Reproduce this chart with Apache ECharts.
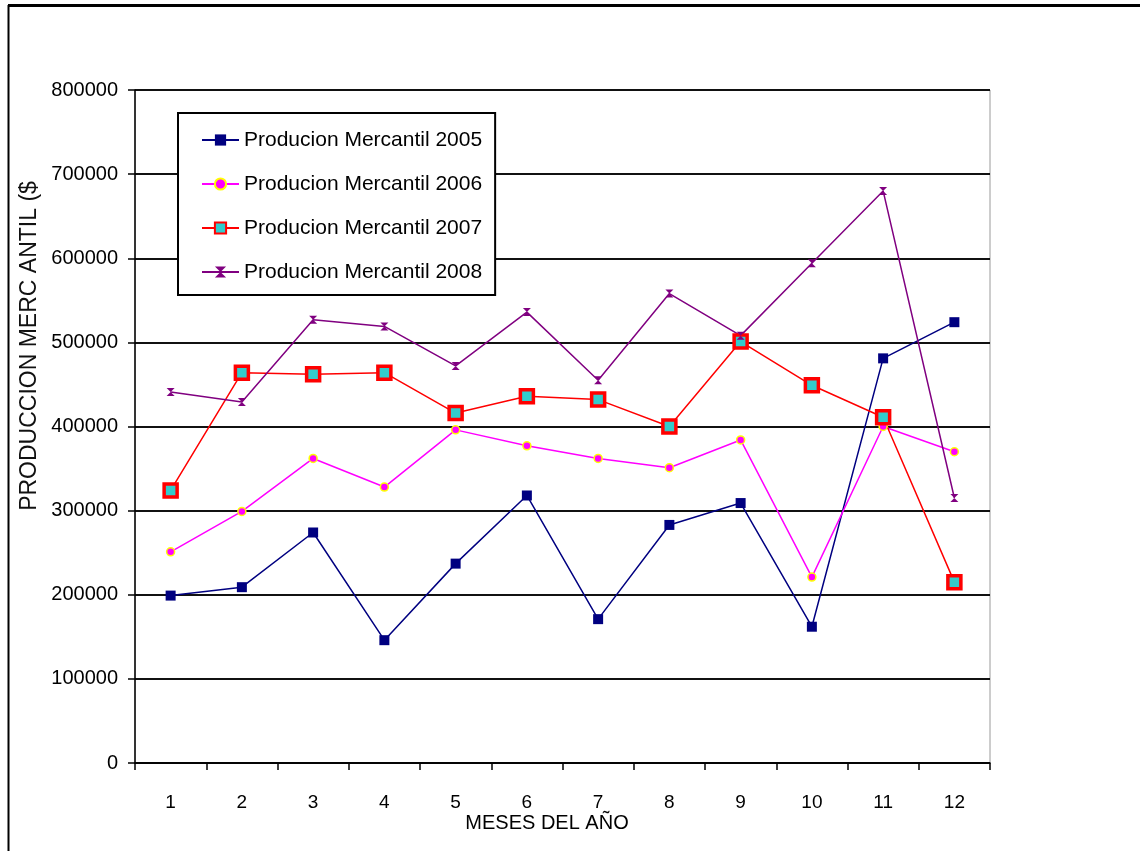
<!DOCTYPE html>
<html>
<head>
<meta charset="utf-8">
<script src="https://cdn.jsdelivr.net/npm/echarts@6/dist/echarts.min.js"></script>
<style>
html,body{margin:0;padding:0;background:#fff;}
#chart{width:1140px;height:851px;}
</style>
</head>
<body>
<div id="chart"></div>
<script>
var months = ['1','2','3','4','5','6','7','8','9','10','11','12'];
var seriesNames = ['Producion Mercantil 2005','Producion Mercantil 2006','Producion Mercantil 2007','Producion Mercantil 2008'];
var prod2005 = [199000, 209000, 274000, 146000, 237000, 318000, 171000, 283000, 309000, 162000, 481000, 524000];
var prod2006 = [251000, 299000, 362000, 328000, 396000, 377000, 362000, 351000, 384000, 221000, 400000, 370000];
var prod2007 = [324000, 464000, 462000, 464000, 416000, 436000, 432000, 400000, 501000, 449000, 411000, 215000];
var prod2008 = [441000, 429000, 527000, 519000, 472000, 536000, 455000, 558000, 508000, 594000, 680000, 315000];
var yTicks = [0, 100000, 200000, 300000, 400000, 500000, 600000, 700000, 800000];
var yTitle = 'PRODUCCION MERC ANTIL ($';
var xTitle = 'MESES DEL AÑO';

var FONT = "'Liberation Sans', Arial, sans-serif";
var chart = echarts.init(document.getElementById('chart'));
var hourglass = 'path://M0,0 L10,0 L0,10 L10,10 Z';

chart.setOption({
  animation: false,
  backgroundColor: '#fff',
  textStyle: {fontFamily: FONT, color: '#000'},
  grid: {left: 135, right: 150, top: 90, bottom: 88, show: true, borderColor: '#9a9a9a', borderWidth: 1, containLabel: false},
  legend: {
    orient: 'vertical', left: 178, top: 113,
    padding: [14, 13, 10, 23],
    itemGap: 18, itemWidth: 37, itemHeight: 14,
    borderColor: '#000', borderWidth: 2,
    backgroundColor: '#fff',
    textStyle: {fontFamily: FONT, fontSize: 21, lineHeight: 26, color: '#000'},
    data: seriesNames
  },
  xAxis: {
    type: 'category', data: months, boundaryGap: true,
    axisLine: {lineStyle: {color: '#000', width: 1.5}},
    axisTick: {show: true, length: 7, lineStyle: {color: '#000', width: 1.5}},
    axisLabel: {margin: 30, fontSize: 19, color: '#000', fontFamily: FONT}
  },
  yAxis: {
    type: 'value', min: 0, max: 800000, interval: 100000,
    axisLine: {show: true, lineStyle: {color: '#000', width: 1.5}},
    axisTick: {show: true, length: 7, lineStyle: {color: '#000', width: 1.5}},
    axisLabel: {margin: 17, fontSize: 20, color: '#000', fontFamily: FONT,
      formatter: function (v) { return yTicks.indexOf(v) >= 0 ? String(v) : ''; }},
    splitLine: {show: true, lineStyle: {color: '#111', width: 2}}
  },
  graphic: [
    {type: 'line', shape: {x1: 8, y1: 5.5, x2: 1140, y2: 5.5}, style: {stroke: '#000', lineWidth: 3}},
    {type: 'line', shape: {x1: 8.5, y1: 5, x2: 8.5, y2: 851}, style: {stroke: '#000', lineWidth: 2}},
    {type: 'text', x: 30, y: 346, rotation: Math.PI / 2,
      style: {text: yTitle, fontSize: 23, fontFamily: FONT, fill: '#111', align: 'center', verticalAlign: 'middle'}},
    {type: 'text', x: 547, y: 823,
      style: {text: xTitle, fontSize: 20, fontFamily: FONT, fill: '#000', align: 'center', verticalAlign: 'middle'}}
  ],
  series: [
    {name: seriesNames[0], type: 'line', data: prod2005, symbol: 'rect', symbolSize: 10,
      lineStyle: {color: '#000080', width: 1.5}, itemStyle: {color: '#000080'}},
    {name: seriesNames[1], type: 'line', data: prod2006, symbol: 'circle', symbolSize: 8,
      lineStyle: {color: '#FF00FF', width: 1.5}, itemStyle: {color: '#FF00FF', borderColor: '#FFFF00', borderWidth: 1.5}},
    {name: seriesNames[2], type: 'line', data: prod2007, symbol: 'rect', symbolSize: 13,
      lineStyle: {color: '#FF0000', width: 1.5}, itemStyle: {color: '#33CCCC', borderColor: '#FF0000', borderWidth: 3.5}},
    {name: seriesNames[3], type: 'line', data: prod2008, symbol: hourglass, symbolSize: 8,
      lineStyle: {color: '#800080', width: 1.5}, itemStyle: {color: '#800080'}}
  ]
});
</script>
</body>
</html>
